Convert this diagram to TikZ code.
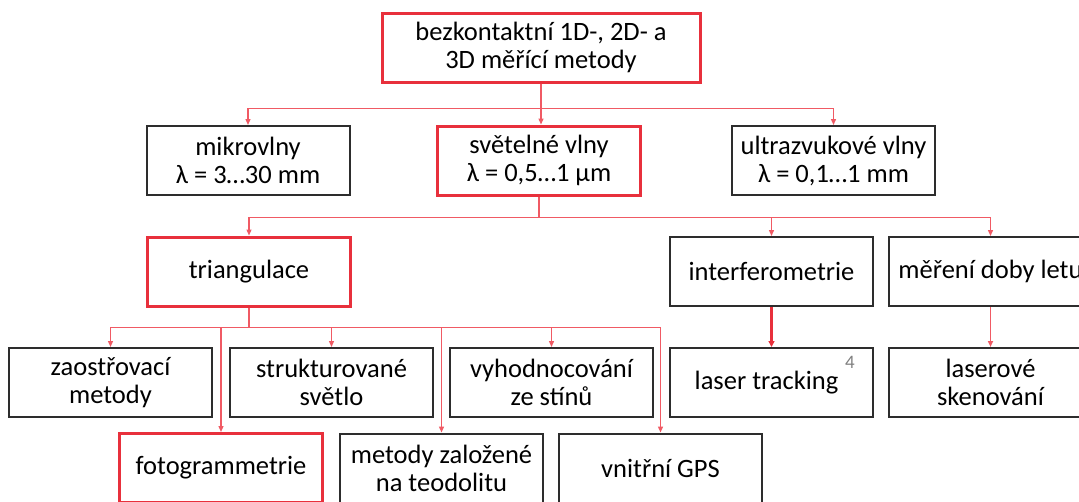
\documentclass[tikz,border=0pt]{standalone}
\usepackage{fontspec}
\setmainfont{Carlito}
\usetikzlibrary{arrows.meta}
\definecolor{boxred}{RGB}{232,48,60}
\definecolor{linered}{RGB}{240,90,100}
\definecolor{boxblack}{RGB}{45,45,45}
\begin{document}
\begin{tikzpicture}[x=1pt,y=1pt,
  base/.style={rectangle,minimum width=203pt,minimum height=69pt,inner sep=0pt,align=center,
    font=\fontsize{26.5}{28}\selectfont,text=black},
  blk/.style={base,draw=boxblack,line width=2pt},
  redb/.style={base,draw=boxred,line width=3pt},
  conn/.style={draw=linered,line width=1.3pt,-{Triangle[length=6pt,width=5pt]}},
  thickconn/.style={draw=boxred,line width=2.4pt,-{Triangle[length=6pt,width=6pt]}}]
\clip (0,0) rectangle (1079,-501);
\fill[white] (0,0) rectangle (1079,-501);
% level 1
\node[redb,minimum width=318pt] (root) at (541,-47.5) {bezkontaktní 1D-, 2D- a\\3D měřící metody};
% level 2
\node[blk] (mik) at (248,-160.5) {mikrovlny\\λ = 3…30 mm};
\node[redb] (sv) at (539,-160.5) {světelné vlny\\λ = 0,5…1 µm};
\node[blk] (ult) at (833.5,-160.5) {ultrazvukové vlny\\λ = 0,1…1 mm};
% level 3
\node[redb] (tri) at (249,-271.5) {triangulace};
\node[blk] (int) at (771.5,-271.5) {interferometrie};
\node[blk] (mer) at (990.5,-271.5) {měření doby letu};
% level 4
\node[blk] (zao) at (110.5,-382.5) {zaostřovací\\metody};
\node[blk] (str) at (331.5,-382.5) {strukturované\\světlo};
\node[blk] (vyh) at (551.5,-382.5) {vyhodnocování\\ze stínů};
\node[blk] (las) at (771.5,-382.5) {laser tracking\hspace{10pt}};
\node[font=\fontsize{19}{20}\selectfont,text=gray] (sup) at (850,-362) {4};
\node[blk] (lsk) at (990.5,-382.5) {laserové\\skenování};
% level 5
\node[redb] (fot) at (221,-468) {fotogrammetrie};
\node[blk] (teo) at (441.5,-468) {metody založené\\na teodolitu};
\node[blk] (gps) at (660.5,-468) {vnitřní GPS};
% connectors level 1 -> 2
\draw[conn] (root.south) -- ++(0,-25) -| (mik.north);
\draw[conn] (root.south) -- ++(0,-25) -| (ult.north);
\draw[conn] (root.south) -- (root.south |- sv.north);
% level 2 -> 3
\draw[conn] (sv.south) -- ++(0,-21) -| (tri.north);
\draw[conn] (sv.south) -- ++(0,-21) -| (int.north);
\draw[conn] (sv.south) -- ++(0,-21) -| (mer.north);
% level 3 -> 4/5
\draw[conn] (tri.south) -- ++(0,-20) -| (zao.north);
\draw[conn] (tri.south) -- ++(0,-20) -| (str.north);
\draw[conn] (tri.south) -- ++(0,-20) -| (vyh.north);
\draw[conn] (tri.south) -- ++(0,-20) -| (fot.north);
\draw[conn] (tri.south) -- ++(0,-20) -| (teo.north);
\draw[conn] (tri.south) -- ++(0,-20) -| (gps.north);
\draw[thickconn] (int.south) -- (las.north);
\draw[conn,line width=1.8pt] (mer.south) -- (lsk.north);
\end{tikzpicture}
\end{document}
